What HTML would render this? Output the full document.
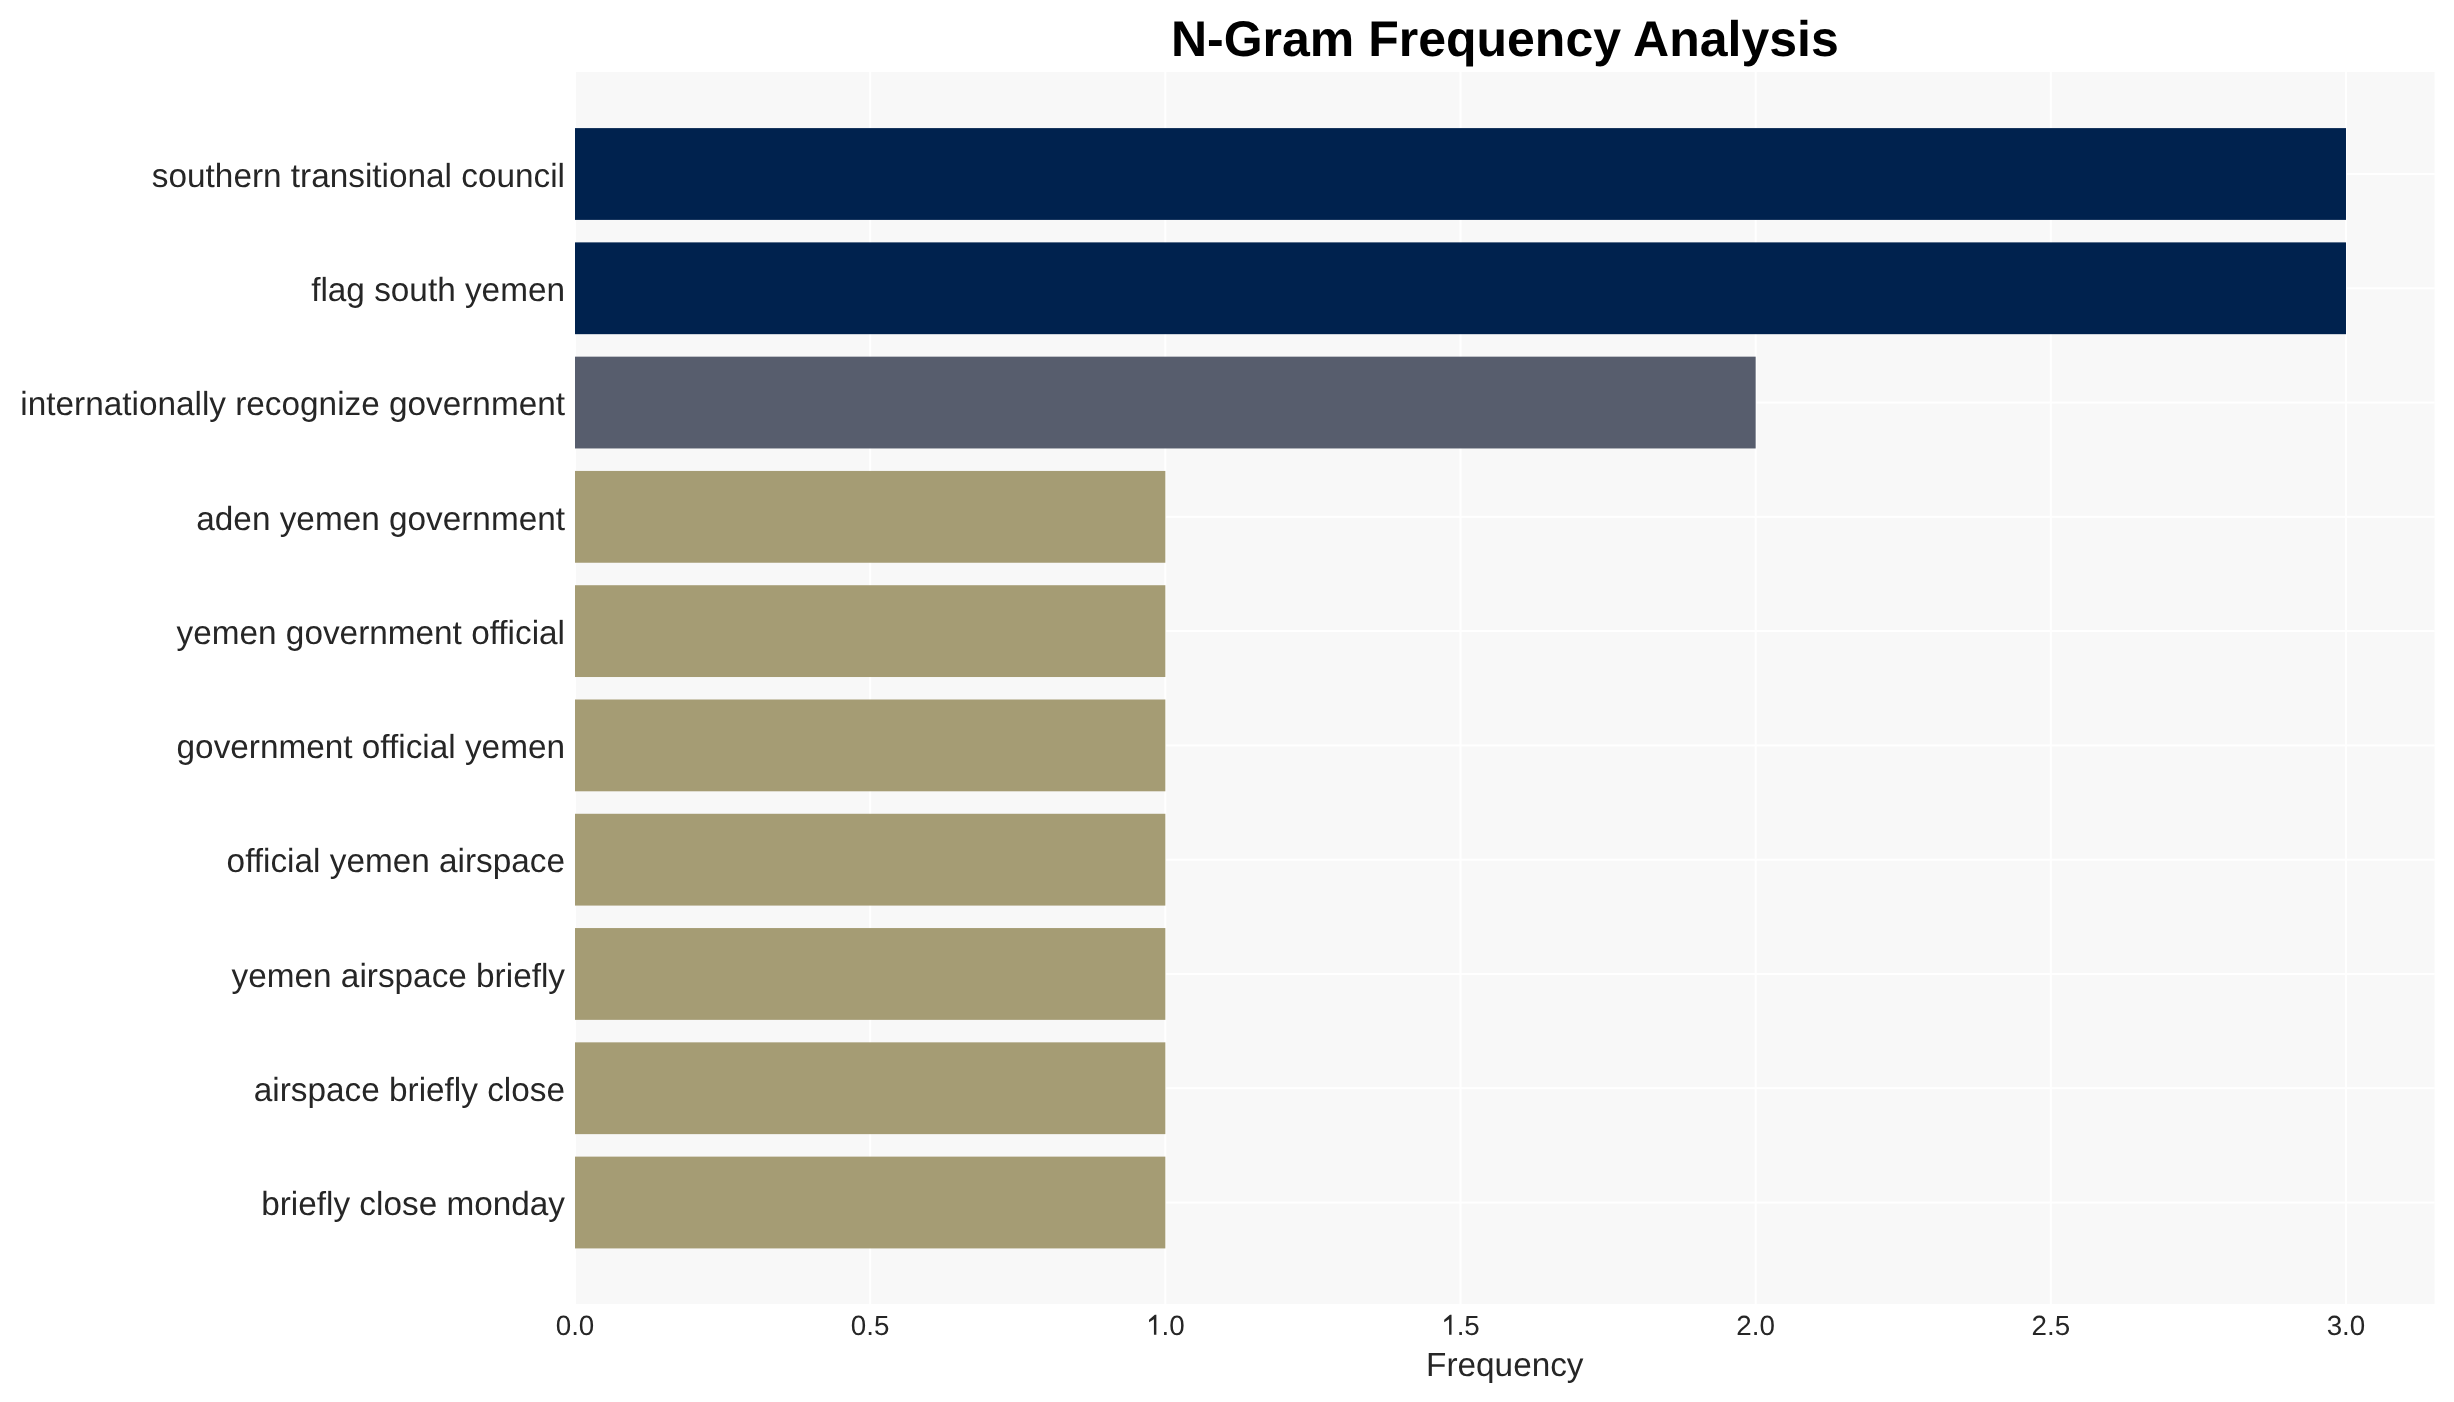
<!DOCTYPE html><html><head><meta charset="utf-8"><title>N-Gram Frequency Analysis</title><style>html,body{margin:0;padding:0;background:#fff;overflow:hidden;}svg{display:block;will-change:transform;}text{font-family:"Liberation Sans",sans-serif;text-rendering:geometricPrecision;}</style></head><body>
<svg width="2454" height="1402" viewBox="0 0 2454 1402">
<rect x="0" y="0" width="2454" height="1402" fill="#ffffff"/>
<rect x="575.0" y="72.0" width="1859.60" height="1232.00" fill="#f8f8f8"/>
<rect x="574.00" y="72.0" width="2" height="1232.00" fill="#ffffff"/>
<rect x="869.16" y="72.0" width="2" height="1232.00" fill="#ffffff"/>
<rect x="1164.33" y="72.0" width="2" height="1232.00" fill="#ffffff"/>
<rect x="1459.50" y="72.0" width="2" height="1232.00" fill="#ffffff"/>
<rect x="1754.66" y="72.0" width="2" height="1232.00" fill="#ffffff"/>
<rect x="2049.82" y="72.0" width="2" height="1232.00" fill="#ffffff"/>
<rect x="2344.99" y="72.0" width="2" height="1232.00" fill="#ffffff"/>
<rect x="575.0" y="173.00" width="1859.60" height="2" fill="#ffffff"/>
<rect x="575.0" y="287.28" width="1859.60" height="2" fill="#ffffff"/>
<rect x="575.0" y="401.56" width="1859.60" height="2" fill="#ffffff"/>
<rect x="575.0" y="515.84" width="1859.60" height="2" fill="#ffffff"/>
<rect x="575.0" y="630.12" width="1859.60" height="2" fill="#ffffff"/>
<rect x="575.0" y="744.40" width="1859.60" height="2" fill="#ffffff"/>
<rect x="575.0" y="858.68" width="1859.60" height="2" fill="#ffffff"/>
<rect x="575.0" y="972.96" width="1859.60" height="2" fill="#ffffff"/>
<rect x="575.0" y="1087.24" width="1859.60" height="2" fill="#ffffff"/>
<rect x="575.0" y="1201.52" width="1859.60" height="2" fill="#ffffff"/>
<rect x="575.0" y="128.10" width="1770.99" height="91.80" fill="#00224e"/>
<rect x="575.0" y="242.38" width="1770.99" height="91.80" fill="#00224e"/>
<rect x="575.0" y="356.66" width="1180.66" height="91.80" fill="#575d6d"/>
<rect x="575.0" y="470.94" width="590.33" height="91.80" fill="#a59c74"/>
<rect x="575.0" y="585.22" width="590.33" height="91.80" fill="#a59c74"/>
<rect x="575.0" y="699.50" width="590.33" height="91.80" fill="#a59c74"/>
<rect x="575.0" y="813.78" width="590.33" height="91.80" fill="#a59c74"/>
<rect x="575.0" y="928.06" width="590.33" height="91.80" fill="#a59c74"/>
<rect x="575.0" y="1042.34" width="590.33" height="91.80" fill="#a59c74"/>
<rect x="575.0" y="1156.62" width="590.33" height="91.80" fill="#a59c74"/>
<text x="565" y="186.70" font-size="33.33" fill="#262626" text-anchor="end">southern transitional council</text>
<text x="565" y="300.98" font-size="33.33" fill="#262626" text-anchor="end">flag south yemen</text>
<text x="565" y="415.26" font-size="33.33" fill="#262626" text-anchor="end">internationally recognize government</text>
<text x="565" y="529.54" font-size="33.33" fill="#262626" text-anchor="end">aden yemen government</text>
<text x="565" y="643.82" font-size="33.33" fill="#262626" text-anchor="end">yemen government official</text>
<text x="565" y="758.10" font-size="33.33" fill="#262626" text-anchor="end">government official yemen</text>
<text x="565" y="872.38" font-size="33.33" fill="#262626" text-anchor="end">official yemen airspace</text>
<text x="565" y="986.66" font-size="33.33" fill="#262626" text-anchor="end">yemen airspace briefly</text>
<text x="565" y="1100.94" font-size="33.33" fill="#262626" text-anchor="end">airspace briefly close</text>
<text x="565" y="1215.22" font-size="33.33" fill="#262626" text-anchor="end">briefly close monday</text>
<text x="575.00" y="1334.8" font-size="27.78" fill="#262626" text-anchor="middle">0.0</text>
<text x="870.16" y="1334.8" font-size="27.78" fill="#262626" text-anchor="middle">0.5</text>
<path transform="translate(1146.021,1334.8) scale(0.013564,-0.013564)" fill="#262626" d="M763 0H583V1147L223 930V1104L647 1472H763Z"/>
<text x="1161.471" y="1334.8" font-size="27.78" fill="#262626" text-anchor="start">.0</text>
<path transform="translate(1441.186,1334.8) scale(0.013564,-0.013564)" fill="#262626" d="M763 0H583V1147L223 930V1104L647 1472H763Z"/>
<text x="1456.636" y="1334.8" font-size="27.78" fill="#262626" text-anchor="start">.5</text>
<text x="1755.66" y="1334.8" font-size="27.78" fill="#262626" text-anchor="middle">2.0</text>
<text x="2050.82" y="1334.8" font-size="27.78" fill="#262626" text-anchor="middle">2.5</text>
<text x="2345.99" y="1334.8" font-size="27.78" fill="#262626" text-anchor="middle">3.0</text>
<text transform="translate(1504.80,1375.9) scale(1,1)" x="0" y="0" font-size="33.33" fill="#262626" text-anchor="middle">Frequency</text>
<text transform="translate(1504.80,56.0) scale(1,1)" x="0" y="0" font-size="50" font-weight="bold" fill="#000000" text-anchor="middle">N-Gram Frequency Analysis</text>
</svg></body></html>
